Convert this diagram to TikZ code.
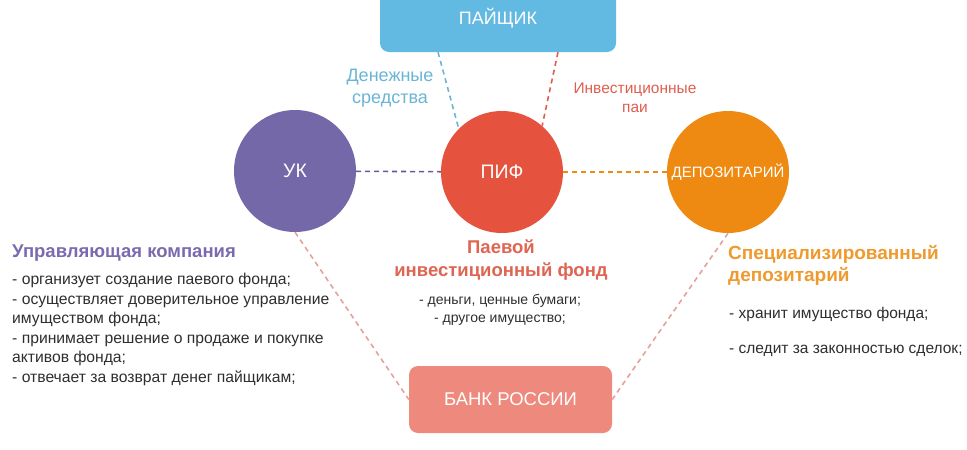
\documentclass[tikz,border=0pt]{standalone}
\usepackage{fontspec}
\setmainfont{Liberation Sans}
\definecolor{cblue}{HTML}{62B9E2}
\definecolor{cpurple}{HTML}{7468A8}
\definecolor{cred}{HTML}{E5533F}
\definecolor{corange}{HTML}{EE8A12}
\definecolor{csalmon}{HTML}{EE8A7D}
\definecolor{tblue}{HTML}{6AB5D3}
\definecolor{tred}{HTML}{DE5E4E}
\definecolor{tpurple}{HTML}{7A6AAE}
\definecolor{tfund}{HTML}{E06452}
\definecolor{torange}{HTML}{EE9A2E}
\definecolor{tbody}{HTML}{2E2E2E}
\definecolor{lpurple}{HTML}{5F5C9A}
\definecolor{lsalmon}{HTML}{E3A29A}
\begin{document}
\begin{tikzpicture}[x=1pt,y=-1pt,
  roundbox/.style={rounded corners=9pt, text=white, inner sep=0pt},
  bubble/.style={circle, minimum size=122pt, inner sep=0pt, text=white},
  dashline/.style={line width=1.6pt, dash pattern=on 5pt off 4pt},
  txt/.style={inner sep=0pt, text=tbody}
]
\useasboundingbox (0,0) rectangle (967,450);
% boxes
\node[roundbox, fill=cblue, minimum width=236pt, minimum height=67pt,
      font=\fontsize{18}{20}\selectfont] (paj) at (498,18.5) {\raisebox{1.5pt}{ПАЙЩИК}};
\node[roundbox, fill=csalmon, minimum width=203pt, minimum height=67pt,
      font=\fontsize{18.5}{20}\selectfont] (bank) at (510.5,399.5) {БАНК РОССИИ};
% circles
\node[bubble, fill=cpurple, font=\fontsize{19.5}{20}\selectfont] (uk) at (295,171) {УК};
\node[bubble, fill=cred, font=\fontsize{19.5}{20}\selectfont] (pif) at (502,172) {ПИФ};
\node[bubble, fill=corange, font=\fontsize{15}{17}\selectfont] (dep) at (728,172) {ДЕПОЗИТАРИЙ};
% connectors
\draw[dashline, lpurple] (uk) -- (pif);
\draw[dashline, corange] (pif) -- (dep);
\draw[dashline, tblue] ([xshift=-60pt]paj.south) -- (pif.135);
\draw[dashline, tred] ([xshift=60pt]paj.south) -- (pif.49);
\draw[dashline, lsalmon] (uk.south) -- (bank.west);
\draw[dashline, lsalmon] (dep.south) -- (bank.east);
% labels
\node[inner sep=0pt, text=tblue, align=center, anchor=north,
      font=\fontsize{18}{22.5}\selectfont] (lmoney) at (390,68.5) {Денежные\\средства};
\node[inner sep=0pt, text=tred, align=center, anchor=north,
      font=\fontsize{15.5}{18.5}\selectfont] (lshares) at (635,83) {Инвестиционные\\паи};
% left block
\node[inner sep=0pt, text=tpurple, anchor=base west,
      font=\bfseries\fontsize{18.5}{20}\selectfont] (ukt) at (12,257) {Управляющая компания};
\node[txt, align=left, anchor=north west,
      font=\fontsize{15.7}{19.6}\selectfont] (ukl) at (12,273) {- организует создание паевого фонда;\\- осуществляет доверительное управление\\имуществом фонда;\\- принимает решение о продаже и покупке\\активов фонда;\\- отвечает за возврат денег пайщикам;};
% center block
\node[inner sep=0pt, text=tfund, align=center, anchor=north,
      font=\bfseries\fontsize{18.5}{23}\selectfont] (pift) at (501,239.5) {Паевой\\инвестиционный фонд};
\node[txt, align=center, anchor=north,
      font=\fontsize{14}{18.5}\selectfont] (pifl) at (500,294) {- деньги, ценные бумаги;\\- другое имущество;};
% right block
\node[inner sep=0pt, text=torange, align=left, anchor=north west,
      font=\bfseries\fontsize{19}{22.5}\selectfont] (dept) at (728,245) {Специализированный\\депозитарий};
\node[txt, align=left, anchor=north west,
      font=\fontsize{15.5}{35}\selectfont] (depl) at (729,307) {- хранит имущество фонда;\\- следит за законностью сделок;};
\end{tikzpicture}
\end{document}
